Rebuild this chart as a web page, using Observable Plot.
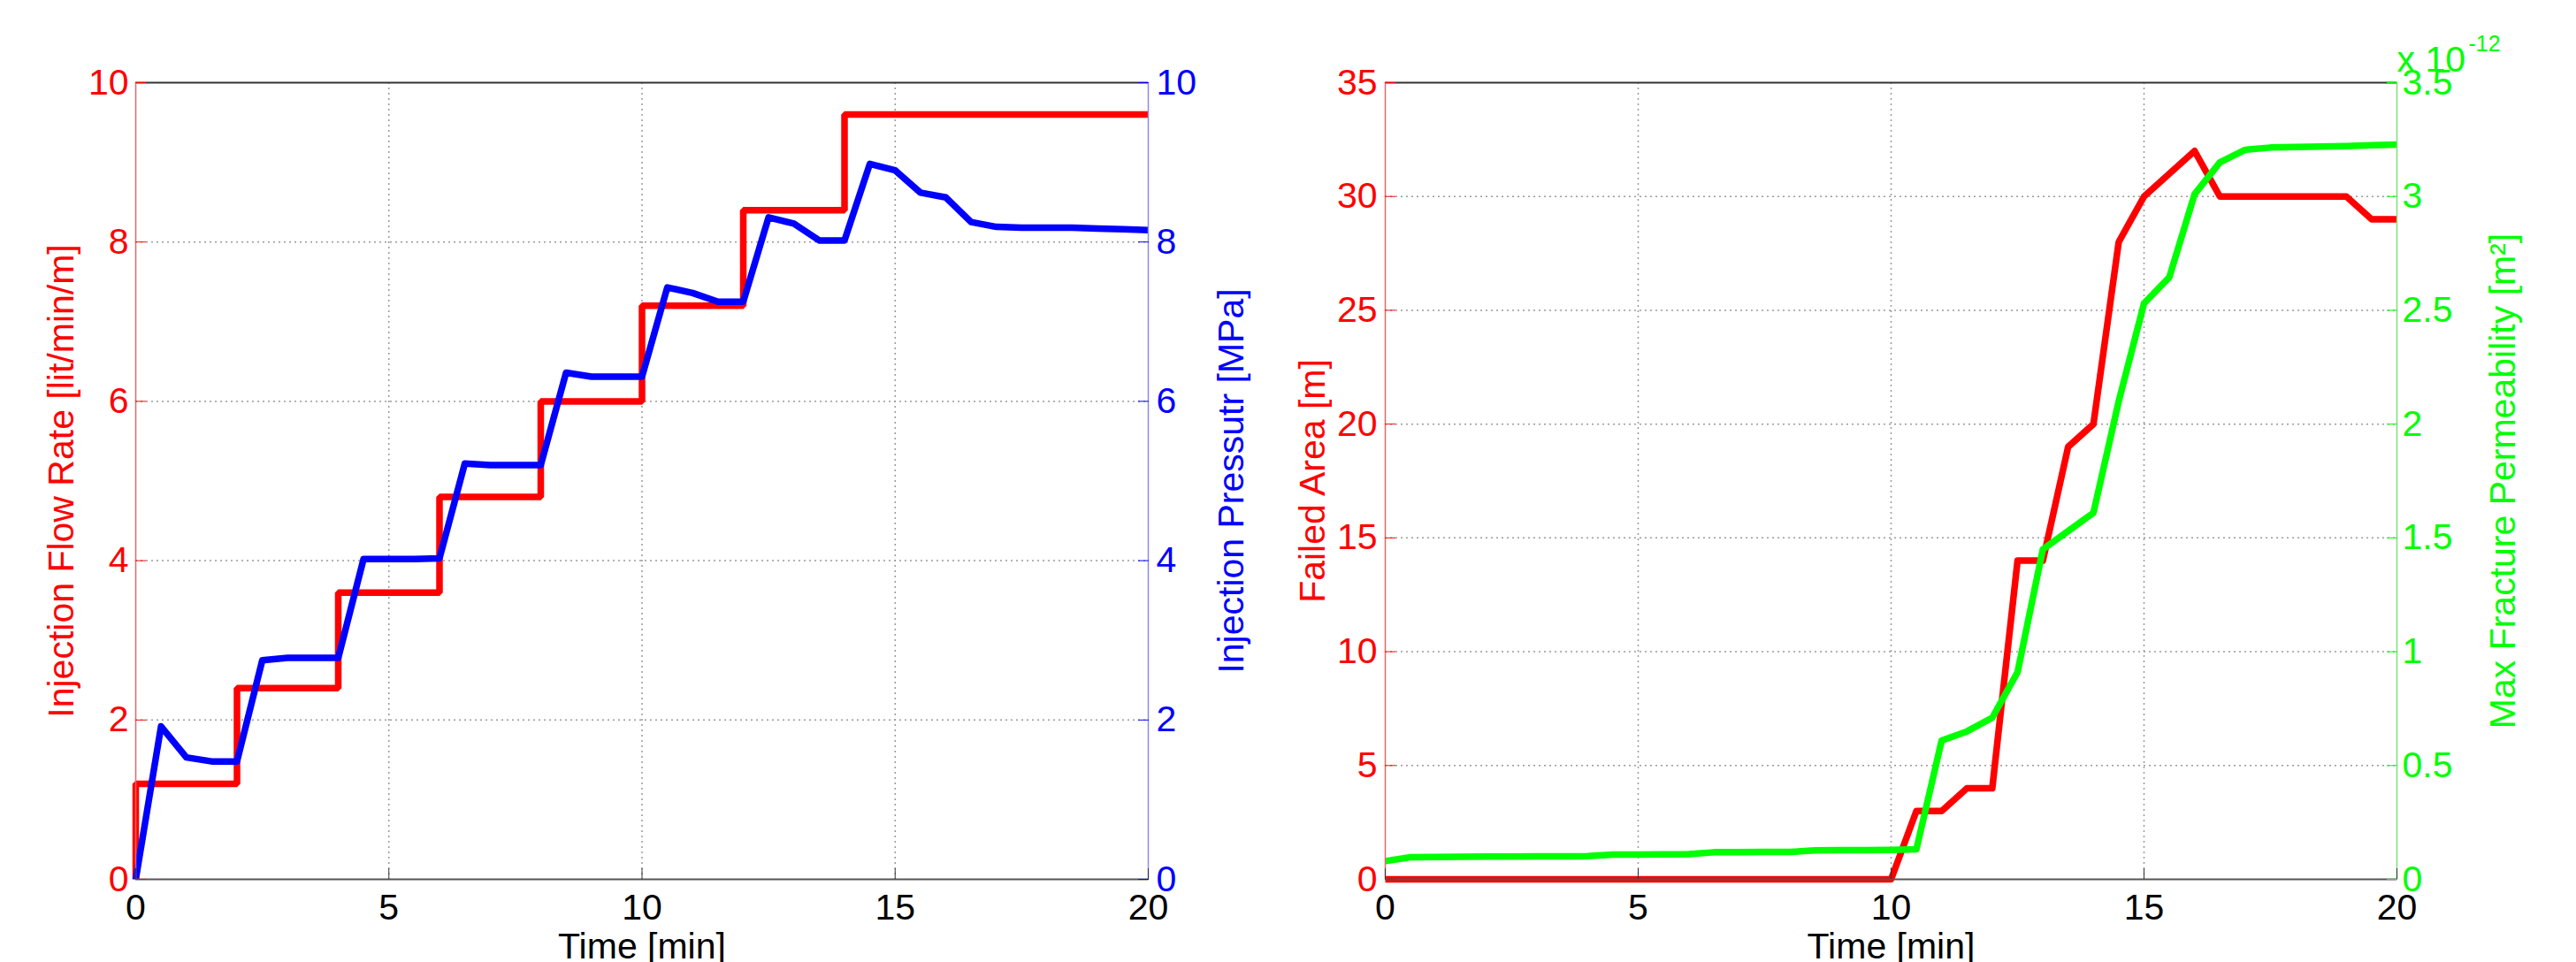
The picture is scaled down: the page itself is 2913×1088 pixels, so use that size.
<!DOCTYPE html>
<html>
<head>
<meta charset="utf-8">
<script src="https://cdn.jsdelivr.net/npm/d3@7"></script>
<script src="https://cdn.jsdelivr.net/npm/@observablehq/plot@0.6"></script>
<style>
html, body { margin: 0; padding: 0; background: #fff; }
#wrap { display: flex; width: 2913px; height: 1088px; overflow: hidden; }
#wrap svg { display: block; flex: none; }
</style>
</head>
<body>
<div id="wrap"></div>
<script>
// ---------- tick labels ----------
const xTicks = [0, 5, 10, 15, 20];
const flowTicks = [0, 2, 4, 6, 8, 10];
const pressureTicks = [0, 2, 4, 6, 8, 10];
const areaTicks = [0, 5, 10, 15, 20, 25, 30, 35];
const permTicks = [0, 0.5, 1, 1.5, 2, 2.5, 3, 3.5];

// ---------- left panel data ----------
// injection flow rate (step function) [lit/min/m]
const flowTime = [0, 0, 2, 4, 6, 8, 10, 12, 14, 20];
const flowRate = [0, 1.2, 2.4, 3.6, 4.8, 6.0, 7.2, 8.4, 9.6, 9.6];

// sample times [min]
const time = [0, 0.5, 1, 1.5, 2, 2.5, 3, 3.5, 4, 4.5, 5, 5.5, 6, 6.5, 7, 7.5, 8, 8.5, 9, 9.5,
              10, 10.5, 11, 11.5, 12, 12.5, 13, 13.5, 14, 14.5, 15, 15.5, 16, 16.5, 17, 17.5, 18, 18.5, 19, 19.5, 20];

// injection pressure [MPa]
const pressure = [0, 1.92, 1.53, 1.48, 1.48, 2.75, 2.78, 2.78, 2.78, 4.02, 4.02, 4.02, 4.03, 5.22, 5.2, 5.2, 5.2, 6.36, 6.31, 6.31,
                  6.31, 7.43, 7.36, 7.25, 7.25, 8.31, 8.23, 8.02, 8.02, 8.98, 8.9, 8.62, 8.56, 8.25, 8.19, 8.18, 8.18, 8.18, 8.17, 8.16, 8.15];

// ---------- right panel data ----------
// failed area [m]
const failedArea = [0, 0, 0, 0, 0, 0, 0, 0, 0, 0, 0, 0, 0, 0, 0, 0, 0, 0, 0, 0,
                    0, 3, 3, 4, 4, 14, 14, 19, 20, 28, 30, 31, 32, 30, 30, 30, 30, 30, 30, 29, 29];

// max fracture permeability [x 1e-12 m^2]
const permeability = [0.08, 0.097, 0.098, 0.099, 0.1, 0.1, 0.101, 0.101, 0.102, 0.109, 0.109, 0.11, 0.111, 0.119, 0.119, 0.12, 0.12, 0.127, 0.128, 0.128,
                      0.129, 0.132, 0.61, 0.65, 0.71, 0.91, 1.45, 1.53, 1.61, 2.1, 2.53, 2.645, 3.01, 3.15, 3.205, 3.215, 3.217, 3.219, 3.221, 3.225, 3.228];

// ---------- styling ----------
const RED = "#ff0000", BLUE = "#0000ff", GREEN = "#00ff00";
const GRID = "#9a9a9a";
const FONT = "'Liberation Sans', Arial, Helvetica, sans-serif";
const FS = 41;
const LW = 7.5;
const baseStyle = {fontFamily: FONT, fontSize: FS + "px", background: "white", overflow: "visible"};

const flowData = flowTime.map((t, i) => ({t, v: flowRate[i]}));
const pressureData = time.map((t, i) => ({t, v: pressure[i]}));
const areaData = time.map((t, i) => ({t, v: failedArea[i]}));
// the permeability series is drawn against the left axis, rescaled to its range
const permFactor = areaTicks[areaTicks.length - 1] / permTicks[permTicks.length - 1];
const permData = time.map((t, i) => ({t, v: permeability[i]}));

function frameMarks(yT, leftStroke, rightStroke) {
  return [
    Plot.ruleY([yT[yT.length - 1]], {stroke: "#333", strokeWidth: 2}),
    Plot.ruleY([yT[0]], {stroke: "#555", strokeWidth: 2}),
    Plot.ruleX([xTicks[0]], {stroke: leftStroke, strokeWidth: 1.5}),
    Plot.ruleX([xTicks[xTicks.length - 1]], {stroke: rightStroke, strokeWidth: 1.5})
  ];
}

function gridMarks(yT) {
  return [
    Plot.ruleX(xTicks.slice(1, -1), {stroke: GRID, strokeWidth: 1.5, strokeDasharray: "2,4"}),
    Plot.ruleY(yT.slice(1, -1), {stroke: GRID, strokeWidth: 1.5, strokeDasharray: "2,4"})
  ];
}

function xAxisMarks() {
  return [
    Plot.axisX({ticks: xTicks, anchor: "bottom", tickSize: 12, dy: -12, tickFormat: () => "", stroke: "#333", label: null}),
    Plot.axisX({ticks: xTicks, anchor: "bottom", tickSize: 0, tickPadding: 16, fill: "black", label: null, fontSize: FS}),
    Plot.text(["Time [min]"], {text: d => d, frameAnchor: "bottom", dy: 89, textAnchor: "middle", lineAnchor: "bottom", fill: "black", fontSize: FS})
  ];
}

// ---------- left panel ----------
const left = Plot.plot({
  width: 1456, height: 1088,
  marginLeft: 153, marginRight: 158, marginTop: 93, marginBottom: 94,
  style: baseStyle,
  x: {domain: [xTicks[0], xTicks[xTicks.length - 1]]},
  y: {domain: [flowTicks[0], flowTicks[flowTicks.length - 1]]},
  marks: [
    ...gridMarks(flowTicks),
    Plot.line(flowData, {x: "t", y: "v", curve: "step-after", stroke: RED, strokeWidth: LW, strokeLinejoin: "miter", strokeLinecap: "butt"}),
    Plot.line(pressureData, {x: "t", y: "v", stroke: BLUE, strokeWidth: LW, strokeLinejoin: "round", strokeLinecap: "butt"}),
    ...frameMarks(flowTicks, "#e06a6a", "#8c8ce6"),
    ...xAxisMarks(),
    Plot.axisY({ticks: flowTicks, anchor: "left", tickSize: 12, dx: 12, tickFormat: () => "", stroke: RED, label: null}),
    Plot.axisY({ticks: flowTicks, anchor: "left", tickSize: 0, tickPadding: 8, fill: RED, label: null, fontSize: FS}),
    Plot.axisY({ticks: pressureTicks, anchor: "right", tickSize: 12, dx: -12, tickFormat: () => "", stroke: BLUE, label: null}),
    Plot.axisY({ticks: pressureTicks, anchor: "right", tickSize: 0, tickPadding: 9, fill: BLUE, label: null, fontSize: FS}),
    Plot.text(["Injection Flow Rate [lit/min/m]"], {text: d => d, frameAnchor: "left", dx: -71, rotate: -90, textAnchor: "middle", lineAnchor: "bottom", fill: RED, fontSize: FS}),
    Plot.text(["Injection Pressutr [MPa]"], {text: d => d, frameAnchor: "right", dx: 107, rotate: -90, textAnchor: "middle", lineAnchor: "bottom", fill: BLUE, fontSize: FS})
  ]
});

// ---------- right panel ----------
const right = Plot.plot({
  width: 1457, height: 1088,
  marginLeft: 110, marginRight: 203, marginTop: 93, marginBottom: 94,
  style: baseStyle,
  x: {domain: [xTicks[0], xTicks[xTicks.length - 1]]},
  y: {domain: [areaTicks[0], areaTicks[areaTicks.length - 1]]},
  marks: [
    ...gridMarks(areaTicks),
    Plot.line(areaData, {x: "t", y: "v", stroke: RED, strokeWidth: LW, strokeLinejoin: "round", strokeLinecap: "butt"}),
    Plot.line(permData, {x: "t", y: d => d.v * permFactor, stroke: GREEN, strokeWidth: LW, strokeLinejoin: "round", strokeLinecap: "butt"}),
    ...frameMarks(areaTicks, "#e06a6a", "#7ee07e"),
    ...xAxisMarks(),
    Plot.axisY({ticks: areaTicks, anchor: "left", tickSize: 12, dx: 12, tickFormat: () => "", stroke: RED, label: null}),
    Plot.axisY({ticks: areaTicks, anchor: "left", tickSize: 0, tickPadding: 9, fill: RED, label: null, fontSize: FS}),
    Plot.axisY({ticks: permTicks.map(p => p * permFactor), anchor: "right", tickSize: 12, dx: -12, tickFormat: () => "", stroke: GREEN, label: null}),
    Plot.axisY({ticks: permTicks.map(p => p * permFactor), anchor: "right", tickSize: 0, tickPadding: 6, fill: GREEN, label: null, fontSize: FS,
                tickFormat: v => String(+(v / permFactor).toFixed(2))}),
    Plot.text(["Failed Area [m]"], {text: d => d, frameAnchor: "left", dx: -69, rotate: -90, textAnchor: "middle", lineAnchor: "bottom", fill: RED, fontSize: FS}),
    Plot.text(["Max Fracture Permeability [m\u00B2]"], {text: d => d, frameAnchor: "right", dx: 133, rotate: -90, textAnchor: "middle", lineAnchor: "bottom", fill: GREEN, fontSize: FS}),
    Plot.text(["x 10"], {text: d => d, frameAnchor: "top-right", dx: 0, dy: -13, textAnchor: "start", lineAnchor: "bottom", fill: GREEN, fontSize: FS}),
    Plot.text(["-12"], {text: d => d, frameAnchor: "top-right", dx: 81, dy: -36, textAnchor: "start", lineAnchor: "bottom", fill: GREEN, fontSize: 25})
  ]
});

const wrap = document.getElementById("wrap");
wrap.appendChild(left);
wrap.appendChild(right);
</script>
</body>
</html>
